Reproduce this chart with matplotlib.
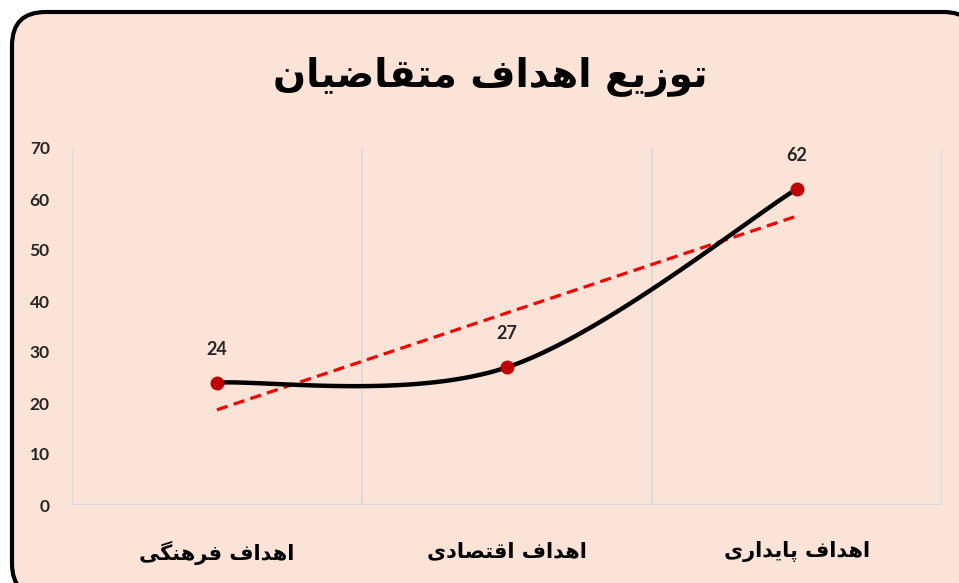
import numpy as np
import matplotlib
matplotlib.use('Agg')
import matplotlib.pyplot as plt
from matplotlib.patches import FancyBboxPatch

# data
categories = ["اهداف فرهنگی", "اهداف اقتصادی", "اهداف پایداری"]
values = [24, 27, 62]
title = "توزیع اهداف متقاضیان"
y_ticks = [0, 10, 20, 30, 40, 50, 60, 70]

# minimal Persian shaping (matplotlib has no text layout for Arabic script)
FORMS = {
    'ا': ('\uFE8D', '\uFE8E', None, None),
    'د': ('\uFEA9', '\uFEAA', None, None),
    'ر': ('\uFEAD', '\uFEAE', None, None),
    'ز': ('\uFEAF', '\uFEB0', None, None),
    'و': ('\uFEED', '\uFEEE', None, None),
    'ت': ('\uFE95', '\uFE96', '\uFE97', '\uFE98'),
    'ی': ('\uFBFC', '\uFBFD', '\uFBFE', '\uFBFF'),
    'ع': ('\uFEC9', '\uFECA', '\uFECB', '\uFECC'),
    'ه': ('\uFEE9', '\uFEEA', '\uFEEB', '\uFEEC'),
    'ف': ('\uFED1', '\uFED2', '\uFED3', '\uFED4'),
    'م': ('\uFEE1', '\uFEE2', '\uFEE3', '\uFEE4'),
    'ق': ('\uFED5', '\uFED6', '\uFED7', '\uFED8'),
    'ض': ('\uFEBD', '\uFEBE', '\uFEBF', '\uFEC0'),
    'ن': ('\uFEE5', '\uFEE6', '\uFEE7', '\uFEE8'),
    'گ': ('\uFB92', '\uFB93', '\uFB94', '\uFB95'),
    'ص': ('\uFEB9', '\uFEBA', '\uFEBB', '\uFEBC'),
    'پ': ('\uFB56', '\uFB57', '\uFB58', '\uFB59'),
}


def dual(c):
    return c in FORMS and FORMS[c][2] is not None


def shape(text):
    out = []
    for i, c in enumerate(text):
        if c not in FORMS:
            out.append(c)
            continue
        prev = text[i - 1] if i > 0 else ''
        nxt = text[i + 1] if i + 1 < len(text) else ''
        join_prev = dual(prev)
        join_next = dual(c) and nxt in FORMS
        iso, fin, ini, med = FORMS[c]
        if join_prev and join_next:
            out.append(med)
        elif join_prev:
            out.append(fin)
        elif join_next:
            out.append(ini)
        else:
            out.append(iso)
    return ''.join(out)[::-1]


def excel_smooth(x, y, n=60):
    # Catmull-Rom style bezier like Excel's smoothed line
    px = np.concatenate([[x[0]], x, [x[-1]]])
    py = np.concatenate([[y[0]], y, [y[-1]]])
    xs, ys = [], []
    t = np.linspace(0, 1, n)
    for i in range(1, len(px) - 2):
        p0 = np.array([px[i], py[i]])
        p3 = np.array([px[i + 1], py[i + 1]])
        c1 = p0 + (np.array([px[i + 1], py[i + 1]]) - np.array([px[i - 1], py[i - 1]])) / 6
        c2 = p3 - (np.array([px[i + 2], py[i + 2]]) - np.array([px[i], py[i]])) / 6
        b = ((1 - t) ** 3)[:, None] * p0 + (3 * (1 - t) ** 2 * t)[:, None] * c1 \
            + (3 * (1 - t) * t ** 2)[:, None] * c2 + (t ** 3)[:, None] * p3
        xs.extend(b[:, 0])
        ys.extend(b[:, 1])
    return np.array(xs), np.array(ys)


plt.rcParams['font.family'] = ['DejaVu Sans', 'Noto Sans']
bg = '#FBE4D7'

fig = plt.figure(figsize=(9.59, 5.83), dpi=100)
fig.patch.set_facecolor('white')

frame = FancyBboxPatch((12 / 959, -14 / 583), 965 / 959, 585 / 583,
                       boxstyle="round,pad=0,rounding_size=0.035",
                       transform=fig.transFigure, facecolor=bg,
                       edgecolor='black', linewidth=3, mutation_aspect=959 / 583,
                       zorder=-1)
fig.patches.append(frame)

ax = fig.add_axes([72 / 959, (583 - 505) / 583, 870 / 959, 357 / 583])
ax.set_facecolor('none')
ax.set_zorder(1)

xpos = np.arange(len(values)) + 0.5
ax.set_xlim(0, 3)
ax.set_ylim(0, 70)

# vertical category gridlines
for gx in range(0, 4):
    ax.axvline(gx, color='#D9D9D9', lw=1.2, zorder=1)
ax.axhline(0, color='#D9D9D9', lw=1.5, zorder=1)

# smoothed line
sx, sy = excel_smooth(xpos, np.array(values, dtype=float))
ax.plot(sx, sy, color='black', lw=3.2, zorder=3, solid_capstyle='round')
ax.plot(xpos, values, 'o', color='#C00000', ms=9, zorder=4)

# linear trend
k, b = np.polyfit(np.arange(1, 4), values, 1)
tx = np.array([xpos[0], xpos[-1]])
ax.plot(tx, k * (tx + 0.5) + b, color='#FF0000', lw=2.3, ls=(0, (3.5, 2)), zorder=2)

for xv, v in zip(xpos, values):
    ax.annotate(str(v), (xv, v), xytext=(0, 18), textcoords='offset points',
                ha='center', va='bottom', fontsize=13, fontweight='bold',
                color='#262626', family=['Lato', 'DejaVu Sans'])

for s in ax.spines.values():
    s.set_visible(False)
ax.set_yticks(y_ticks)
ax.set_yticklabels([str(t) for t in y_ticks], fontsize=12.5, fontweight='bold',
                   color='#262626', family=['Lato', 'DejaVu Sans'])
ax.tick_params(axis='y', length=0, pad=16)
ax.set_xticks(xpos)
ax.set_xticklabels([shape(c) for c in categories], fontsize=15, fontweight='bold',
                   color='black')
ax.tick_params(axis='x', length=0, pad=26)

fig.text(490 / 959, 1 - 77 / 583, shape(title), ha='center', va='center',
         fontsize=28, fontweight='bold', color='black')

fig.savefig('out.png', dpi=100, facecolor='white')
